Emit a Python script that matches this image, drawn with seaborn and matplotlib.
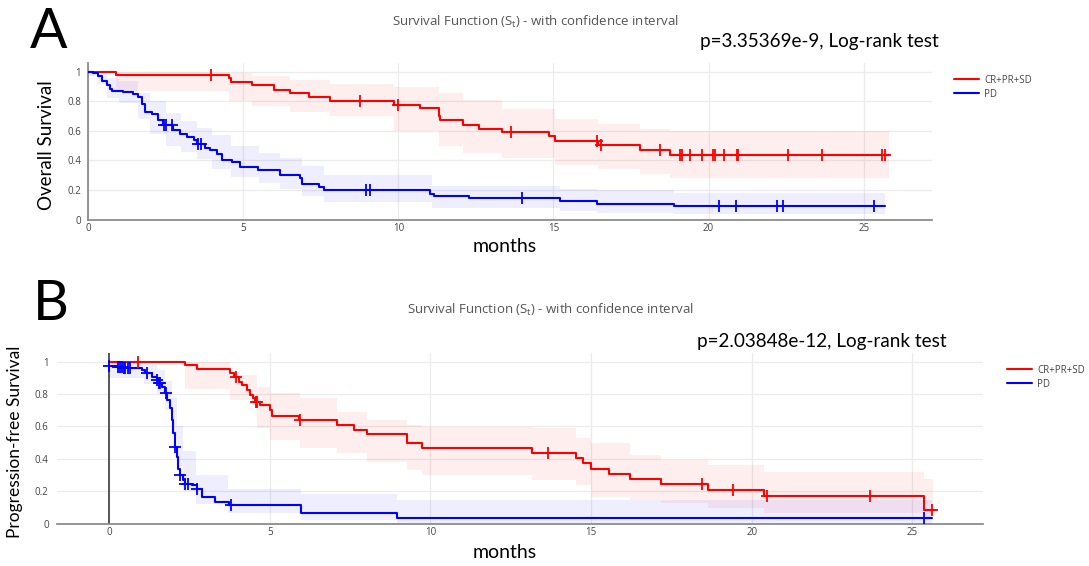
import numpy as np
import matplotlib
matplotlib.use("Agg")
import matplotlib.pyplot as plt
import seaborn as sns

sns.set_theme(style="white")
plt.rcParams["font.family"] = ["Open Sans", "DejaVu Sans"]

RED = "#ff0000"
BLUE = "#0000ff"
labels = ["CR+PR+SD", "PD"]

# ---------------- Panel A: Overall Survival ----------------
a_red_t = [0, 0.9, 4.55, 4.62, 5.3, 5.98, 6.5, 7.12, 7.8, 9.85, 10.7, 11.3, 11.35, 12.1,
           12.6, 13.35, 14.87, 15.06, 16.45, 17.8, 18.75]
a_red_s = [1.0, 0.98, 0.96, 0.93, 0.908, 0.88, 0.856, 0.828, 0.804, 0.779, 0.752, 0.70,
           0.671, 0.643, 0.616, 0.591, 0.564, 0.535, 0.506, 0.474, 0.438]
a_red_end = 25.8
a_red_cens = [3.97, 8.77, 9.99, 13.62, 16.4, 16.54, 18.43, 19.07, 19.13, 19.4, 19.8,
              20.15, 20.2, 20.5, 20.9, 20.95, 22.55, 23.67, 25.6, 25.68]
a_red_band_t = [0.9, 4.55, 5.3, 6.5, 7.8, 9.85, 11.3, 12.1, 13.35, 15.06, 16.45, 17.8, 18.75, 25.8]
a_red_hi = [1.0, 0.99, 0.97, 0.945, 0.92, 0.90, 0.855, 0.81, 0.75, 0.68, 0.65, 0.615, 0.60, 0.60]
a_red_lo = [0.87, 0.80, 0.77, 0.73, 0.70, 0.60, 0.50, 0.45, 0.42, 0.37, 0.34, 0.31, 0.28, 0.28]

a_blue_t = [0, 0.17, 0.33, 0.44, 0.6, 0.71, 0.76, 1.14, 1.46, 1.62, 1.73, 1.84, 2.05, 2.27,
            2.43, 2.75, 2.97, 3.18, 3.4, 3.5, 3.77, 3.94, 4.15, 4.31, 4.63, 4.9, 5.49, 6.19,
            6.84, 6.89, 7.43, 7.59, 11.03, 11.14, 12.27, 15.2, 16.4, 18.88]
a_blue_s = [1.0, 0.99, 0.97, 0.94, 0.91, 0.887, 0.87, 0.864, 0.853, 0.83, 0.785, 0.729,
            0.718, 0.672, 0.638, 0.605, 0.582, 0.56, 0.537, 0.514, 0.487, 0.47, 0.447, 0.402,
            0.39, 0.357, 0.334, 0.30, 0.278, 0.244, 0.221, 0.203, 0.176, 0.16, 0.145, 0.126,
            0.104, 0.09]
a_blue_end = 25.68
a_blue_cens = [2.45, 2.52, 2.7, 3.56, 3.63, 8.97, 9.08, 13.98, 20.33, 20.88, 22.22, 22.41, 25.33]
a_blue_band_t = [0, 0.3, 0.6, 1.0, 1.6, 2.0, 2.5, 3.0, 3.5, 4.0, 4.6, 5.5, 6.2, 6.9, 7.6,
                 11.1, 15.2, 16.4, 18.88, 25.68]
a_blue_hi = [1.0, 1.0, 0.96, 0.94, 0.86, 0.80, 0.72, 0.67, 0.62, 0.57, 0.50, 0.45, 0.42,
             0.36, 0.30, 0.23, 0.21, 0.20, 0.177, 0.177]
a_blue_lo = [0.97, 0.92, 0.82, 0.79, 0.68, 0.58, 0.50, 0.46, 0.41, 0.34, 0.29, 0.25, 0.21,
             0.16, 0.12, 0.075, 0.06, 0.045, 0.036, 0.036]

# ---------------- Panel B: Progression-free Survival ----------------
b_red_t = [0, 2.35, 2.73, 3.77, 3.9, 4.03, 4.13, 4.29, 4.39, 4.48, 4.55, 4.7, 5.02, 5.07,
           5.9, 7.09, 7.61, 8.03, 9.27, 9.74, 13.17, 14.52, 14.76, 15.01, 15.55, 16.21,
           17.19, 18.64, 20.38, 25.37]
b_red_s = [1.0, 0.98, 0.955, 0.928, 0.907, 0.877, 0.857, 0.825, 0.794, 0.773, 0.753, 0.732,
           0.701, 0.666, 0.64, 0.609, 0.578, 0.551, 0.495, 0.464, 0.433, 0.402, 0.372, 0.34,
           0.309, 0.278, 0.247, 0.21, 0.169, 0.082]
b_red_end = 25.7
b_red_cens = [0.91, 3.95, 4.57, 4.62, 5.95, 13.65, 18.45, 19.42, 20.49, 23.67, 25.6]
b_red_band_t = [2.35, 3.77, 4.6, 5.02, 5.95, 7.09, 8.03, 9.27, 9.74, 13.17, 14.52, 15.01,
                16.21, 17.19, 18.64, 20.38, 25.37, 25.63]
b_red_hi = [1.0, 0.918, 0.846, 0.804, 0.773, 0.69, 0.64, 0.609, 0.598, 0.588, 0.526, 0.495,
            0.423, 0.392, 0.361, 0.32, 0.278, 0.278]
b_red_lo = [0.83, 0.763, 0.588, 0.516, 0.464, 0.433, 0.382, 0.33, 0.299, 0.268, 0.237,
            0.165, 0.144, 0.124, 0.093, 0.062, 0.021, 0.021]

b_blue_t = [0, 0.24, 0.45, 1.02, 1.12, 1.33, 1.49, 1.54, 1.64, 1.75, 1.8, 1.9, 1.95, 2.0,
            2.06, 2.11, 2.16, 2.21, 2.3, 2.37, 2.58, 2.73, 2.89, 3.3, 3.72, 5.97, 8.96]
b_blue_s = [0.975, 0.969, 0.959, 0.949, 0.928, 0.907, 0.887, 0.866, 0.846, 0.804, 0.763,
            0.712, 0.64, 0.557, 0.476, 0.412, 0.34, 0.299, 0.268, 0.247, 0.237, 0.216,
            0.165, 0.134, 0.113, 0.068, 0.035]
b_blue_end = 25.6
b_blue_cens = [0.0, 0.29, 0.34, 0.39, 0.45, 0.5, 0.6, 0.65, 1.17, 1.49, 1.54, 1.6, 1.78,
               2.06, 2.21, 2.37, 2.45, 2.73, 3.8, 25.37]
b_blue_band_t = [0, 0.45, 1.1, 1.5, 1.75, 1.95, 2.1, 2.3, 2.7, 3.7, 5.97, 8.96, 25.6]
b_blue_hi = [1.0, 0.99, 0.98, 0.95, 0.88, 0.78, 0.60, 0.45, 0.30, 0.216, 0.18, 0.144, 0.144]
b_blue_lo = [0.90, 0.90, 0.86, 0.80, 0.70, 0.55, 0.35, 0.20, 0.12, 0.063, 0.02, 0.0, 0.0]

x_ticks = [0, 5, 10, 15, 20, 25]
y_ticks = [0, 0.2, 0.4, 0.6, 0.8, 1]
y_ticklabels = ["0", "0.2", "0.4", "0.6", "0.8", "1"]

fig = plt.figure(figsize=(10.89, 5.66), dpi=100)
axA = fig.add_axes([88 / 1089, 1 - 220 / 566, (932 - 88) / 1089, (220 - 63) / 566])
axB = fig.add_axes([57 / 1089, 1 - 524 / 566, (983 - 57) / 1089, (524 - 353) / 566])


def draw_curve(ax, t, s, end, cens, bt, lo, hi, color, label):
    ax.fill_between(bt, lo, hi, step="post", color=color, alpha=0.065, lw=0, zorder=1)
    x = list(t) + [end]
    y = list(s) + [s[-1]]
    sns.lineplot(x=x, y=y, drawstyle="steps-post", color=color, lw=1.5, ax=ax,
                 estimator=None, sort=False, label=label, zorder=3)
    idx = np.searchsorted(np.asarray(t), np.asarray(cens), side="right") - 1
    cy = np.asarray(s)[idx]
    sns.scatterplot(x=cens, y=cy, marker="+", s=70, linewidth=1.3, color=color, ax=ax,
                    zorder=4, legend=False)


def style_axes(ax, xlim, ylim):
    ax.set_xlim(*xlim)
    ax.set_ylim(*ylim)
    ax.set_xticks(x_ticks)
    ax.set_yticks(y_ticks)
    ax.set_yticklabels(y_ticklabels)
    ax.grid(True, color="#ebebeb", lw=0.9)
    ax.set_axisbelow(True)
    for sp in ["top", "right"]:
        ax.spines[sp].set_visible(False)
    ax.tick_params(axis="both", labelsize=7, colors="#444444", length=0, pad=2)
    ax.set_xlabel("")
    ax.set_ylabel("")


# Panel A
draw_curve(axA, a_red_t, a_red_s, a_red_end, a_red_cens, a_red_band_t, a_red_lo, a_red_hi, RED, labels[0])
draw_curve(axA, a_blue_t, a_blue_s, a_blue_end, a_blue_cens, a_blue_band_t, a_blue_lo, a_blue_hi, BLUE, labels[1])
style_axes(axA, (0, 27.2), (-0.003, 1.06))
axA.spines["left"].set_color("#888888")
axA.spines["bottom"].set_color("#888888")
axA.tick_params(axis="y", length=3, color="#888888")
axA.tick_params(axis="x", length=0)

# Panel B
draw_curve(axB, b_red_t, b_red_s, b_red_end, b_red_cens, b_red_band_t, b_red_lo, b_red_hi, RED, labels[0])
draw_curve(axB, b_blue_t, b_blue_s, b_blue_end, b_blue_cens, b_blue_band_t, b_blue_lo, b_blue_hi, BLUE, labels[1])
style_axes(axB, (-1.62, 27.2), (-0.003, 1.054))
axB.spines["left"].set_visible(False)
axB.spines["bottom"].set_color("#888888")
axB.axvline(0, color="#555555", lw=1.4, zorder=2)
axB.tick_params(axis="y", length=5, color="#888888", pad=1)

for ax, anchor in [(axA, (945 / 1089, 1 - 66 / 566)), (axB, (998 / 1089, 1 - 356 / 566))]:
    ax.legend(loc="upper left", bbox_to_anchor=anchor, bbox_transform=fig.transFigure,
              frameon=False, fontsize=7, handlelength=2.6, handletextpad=0.5,
              labelspacing=0.3, labelcolor="#444444")

title = "Survival Function (S$_{\\mathregular{t}}$) - with confidence interval"
fig.text(535 / 1089, 1 - 22 / 566, title, ha="center", va="center", fontsize=9.5,
         color="#555555", family=["Open Sans", "DejaVu Sans"])
fig.text(550 / 1089, 1 - 310 / 566, title, ha="center", va="center", fontsize=9.5,
         color="#555555", family=["Open Sans", "DejaVu Sans"])

big = ["Lato", "DejaVu Sans"]
fig.text(700 / 1089, 1 - 42 / 566, "p=3.35369e-9, Log-rank test", ha="left", va="center",
         fontsize=13.6, color="black", family=big)
fig.text(697 / 1089, 1 - 341 / 566, "p=2.03848e-12, Log-rank test", ha="left", va="center",
         fontsize=13.6, color="black", family=big)
fig.text(30 / 1089, 1 - 32 / 566, "A", ha="left", va="center", fontsize=40, color="black", family=big)
fig.text(33 / 1089, 1 - 304 / 566, "B", ha="left", va="center", fontsize=40, color="black", family=big)
fig.text(505 / 1089, 1 - 247 / 566, "months", ha="center", va="center", fontsize=14, color="black", family=big)
fig.text(505 / 1089, 1 - 553 / 566, "months", ha="center", va="center", fontsize=14, color="black", family=big)
fig.text(47 / 1089, 1 - 145 / 566, "Overall Survival", ha="center", va="center", rotation=90,
         fontsize=13.5, color="black", family=big)
fig.text(15 / 1089, 1 - 442 / 566, "Progression-free Survival", ha="center", va="center",
         rotation=90, fontsize=12.5, color="black", family=big)

fig.savefig("out.png", dpi=100, facecolor="white")
